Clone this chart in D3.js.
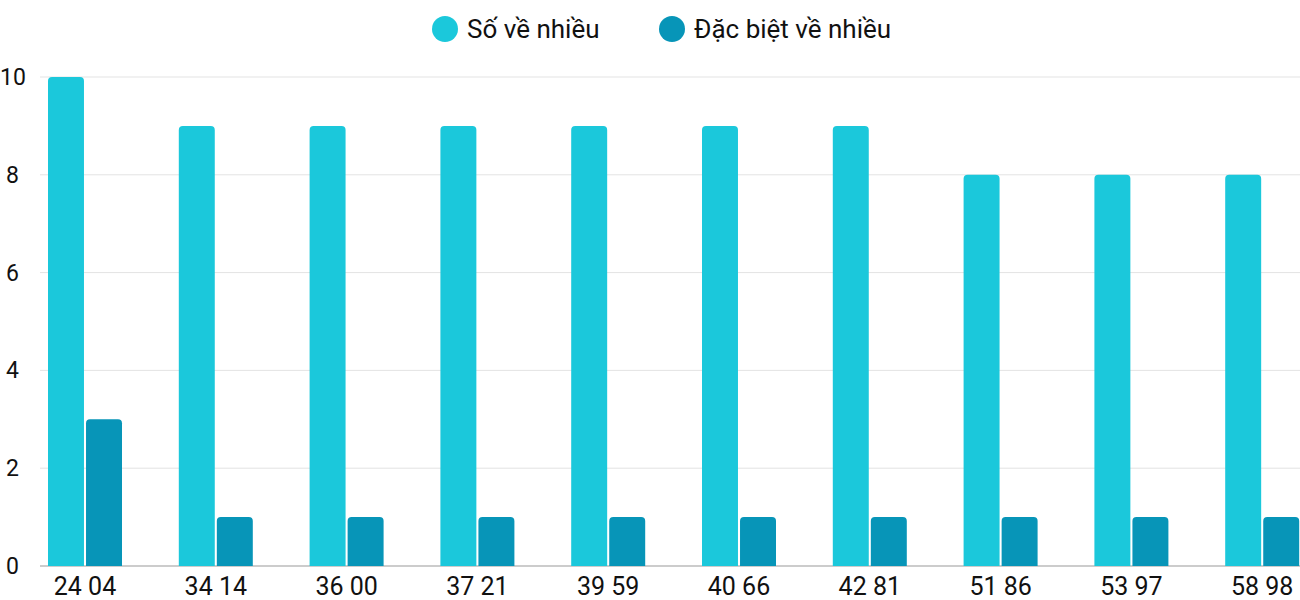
<!DOCTYPE html>
<html><head><meta charset="utf-8">
<script src="https://cdn.jsdelivr.net/npm/d3@7"></script>
<style>body{margin:0;background:#fff;font-family:Roboto,sans-serif}</style>
</head><body><svg id="chart" width="1300" height="600"></svg>
<script>
const categories = ['24 04','34 14','36 00','37 21','39 59','40 66','42 81','51 86','53 97','58 98'];
const soVeNhieu = [10,9,9,9,9,9,9,8,8,8];
const dacBiet = [3,1,1,1,1,1,1,1,1,1];
const seriesNames = ['Số về nhiều','Đặc biệt về nhiều'];
const colors = ['#1bc8db','#0795b8'];
const yTicks = [0,2,4,6,8,10];

const svg = d3.select('#chart');
const y = d3.scaleLinear().domain([0,10]).range([566,77]);
const x = d3.scaleBand().domain(categories).range([19.6,1327.6]);
const inner = d3.scaleBand().domain([0,1]).range([x.bandwidth()/2-37, x.bandwidth()/2+37]).paddingInner(0.054);

// grid
svg.append('g').selectAll('line').data(yTicks).join('line')
  .attr('x1',40).attr('x2',1300).attr('y1',d=>y(d)).attr('y2',d=>y(d))
  .attr('stroke',d=>d===0?'#999':'#e3e3e3').attr('stroke-width',1);
svg.append('g').selectAll('text').data(yTicks).join('text')
  .attr('x',d=>d===10?0:6).attr('y',d=>y(d)+8).attr('font-size',23).attr('fill','#111')
  .text(d=>d);

const barPath = (x0,w,yTop,yBot,r) => {
  r = Math.min(r, (yBot-yTop));
  return `M${x0},${yBot}V${yTop+r}Q${x0},${yTop} ${x0+r},${yTop}H${x0+w-r}Q${x0+w},${yTop} ${x0+w},${yTop+r}V${yBot}Z`;
};
[soVeNhieu,dacBiet].forEach((vals,si)=>{
  svg.append('g').selectAll('path').data(vals).join('path')
    .attr('fill',colors[si])
    .attr('d',(d,i)=>barPath(x(categories[i])+inner(si),inner.bandwidth(),y(d),y(0),4));
});

svg.append('g').selectAll('text').data(categories).join('text')
  .attr('x',d=>x(d)+x.bandwidth()/2).attr('y',595).attr('text-anchor','middle')
  .attr('font-size',25).attr('fill','#111').text(d=>d);

// legend
const lx = [445,672];
seriesNames.forEach((n,i)=>{
  svg.append('circle').attr('cx',lx[i]).attr('cy',29).attr('r',13).attr('fill',colors[i]);
  svg.append('text').attr('x',lx[i]+22).attr('y',38).attr('font-size',26).attr('fill','#111').text(n);
});
</script></body></html>
